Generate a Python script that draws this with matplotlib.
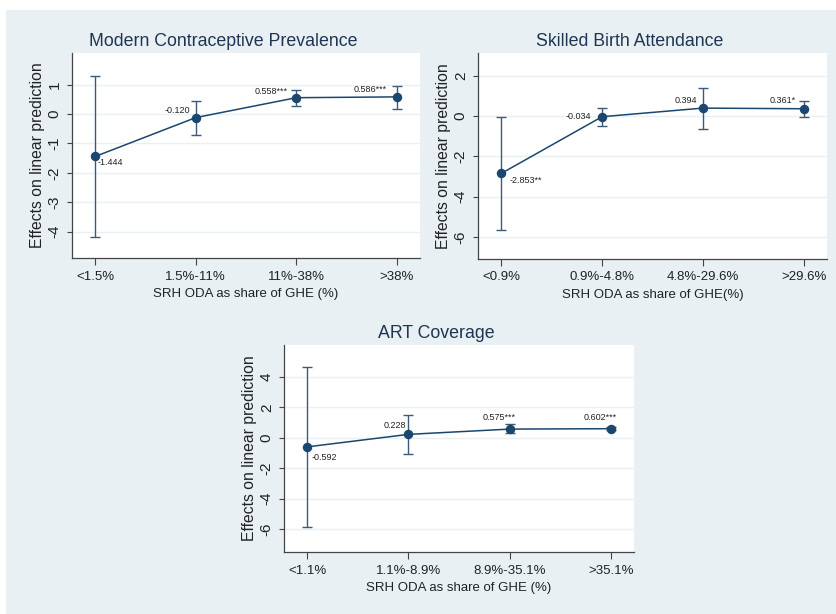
import matplotlib

matplotlib.use("Agg")
import matplotlib.pyplot as plt
from matplotlib.patches import Rectangle

plt.rcParams["font.family"] = ["Liberation Sans", "DejaVu Sans"]

# ---------------------------------------------------------------------------
# Data
# ---------------------------------------------------------------------------
MCP_CATS = ["<1.5%", "1.5%-11%", "11%-38%", ">38%"]
MCP_EST = [-1.444, -0.120, 0.558, 0.586]
MCP_LO = [-4.20, -0.71, 0.27, 0.19]
MCP_HI = [1.30, 0.45, 0.83, 0.97]
MCP_LABELS = ["-1.444", "-0.120", "0.558***", "0.586***"]

SBA_CATS = ["<0.9%", "0.9%-4.8%", "4.8%-29.6%", ">29.6%"]
SBA_EST = [-2.853, -0.034, 0.394, 0.361]
SBA_LO = [-5.67, -0.48, -0.63, -0.03]
SBA_HI = [-0.07, 0.38, 1.38, 0.75]
SBA_LABELS = ["-2.853**", "-0.034", "0.394", "0.361*"]

ART_CATS = ["<1.1%", "1.1%-8.9%", "8.9%-35.1%", ">35.1%"]
ART_EST = [-0.592, 0.228, 0.575, 0.602]
ART_LO = [-5.87, -1.07, 0.29, 0.49]
ART_HI = [4.64, 1.50, 0.88, 0.72]
ART_LABELS = ["-0.592", "0.228", "0.575***", "0.602***"]

# ---------------------------------------------------------------------------
# Style
# ---------------------------------------------------------------------------
COL = "#1a476f"
BG = "#e8f0f3"
TITLE_COL = "#1f3552"
W, H = 836, 614


def px_axes(fig, left, top, right, bottom):
    """Create axes from pixel box (origin top-left)."""
    return fig.add_axes([left / W, 1 - bottom / H, (right - left) / W, (bottom - top) / H])


def draw_panel(ax, cats, est, lo, hi, labels, offsets, title, xlabel, ylim, yticks):
    x = list(range(1, len(cats) + 1))
    yerr = [[e - l for e, l in zip(est, lo)], [h - e for e, h in zip(est, hi)]]
    ax.errorbar(
        x, est, yerr=yerr, color=COL, ecolor="#3b5b78", elinewidth=1.0,
        capsize=3.5, capthick=1.0, lw=1.1, marker="o", ms=5.8, zorder=3,
    )
    for xi, yi, txt, (dx, dy, ha, va) in zip(x, est, labels, offsets):
        ax.annotate(txt, (xi, yi), xytext=(dx, dy), textcoords="offset points",
                    ha=ha, va=va, fontsize=6.5, color="#222222")

    ax.set_xlim(0.77, len(cats) + 0.23)
    ax.set_ylim(*ylim)
    ax.set_xticks(x)
    ax.set_xticklabels(cats, fontsize=9.5, color="#222222")
    ax.set_yticks(yticks)
    ax.set_yticklabels([f"{t:g}" for t in yticks], rotation=90,
                       va="center", fontsize=11, color="#222222")
    ax.tick_params(axis="x", length=5, width=0.8, color="#444444", pad=4)
    ax.tick_params(axis="y", length=3.8, width=0.8, color="#444444", pad=3.5)
    ax.set_facecolor("white")
    ax.grid(axis="y", color=BG, lw=1.0, zorder=0)
    ax.set_axisbelow(True)
    for side in ("top", "right"):
        ax.spines[side].set_visible(False)
    for side in ("left", "bottom"):
        ax.spines[side].set_color("#444444")
        ax.spines[side].set_linewidth(0.9)
    ax.set_title(title, fontsize=12.8, color=TITLE_COL, pad=5, x=0.435)
    ax.set_xlabel(xlabel, fontsize=9.5, color="#222222", labelpad=4)
    ax.set_ylabel("Effects on linear prediction", fontsize=11.3, color="#222222", labelpad=2)


fig = plt.figure(figsize=(W / 100, H / 100), dpi=100, facecolor="white")
fig.patches.append(Rectangle((6 / W, 0), 1, 1 - 10 / H, transform=fig.transFigure,
                             facecolor=BG, edgecolor="none", zorder=-10))

ax1 = px_axes(fig, 72, 53, 420, 258)
draw_panel(
    ax1, MCP_CATS, MCP_EST, MCP_LO, MCP_HI, MCP_LABELS,
    [(2, -4, "left", "center"), (-4, 2, "right", "bottom"),
     (-6, 1, "right", "bottom"), (-7, 2, "right", "bottom")],
    "Modern Contraceptive Prevalence", "SRH ODA as share of GHE (%)",
    (-4.9, 2.08), [-4, -3, -2, -1, 0, 1],
)

ax2 = px_axes(fig, 478, 53, 827, 259)
draw_panel(
    ax2, SBA_CATS, SBA_EST, SBA_LO, SBA_HI, SBA_LABELS,
    [(6, -5, "left", "center"), (-8, 0, "right", "center"),
     (-4, 2, "right", "bottom"), (-6, 3, "right", "bottom")],
    "Skilled Birth Attendance", "SRH ODA as share of GHE(%)",
    (-7.1, 3.13), [-6, -4, -2, 0, 2],
)

ax3 = px_axes(fig, 284, 345, 634, 552)
draw_panel(
    ax3, ART_CATS, ART_EST, ART_LO, ART_HI, ART_LABELS,
    [(3, -8, "left", "center"), (-2, 3, "right", "bottom"),
     (4, 5, "right", "bottom"), (4, 5, "right", "bottom")],
    "ART Coverage", "SRH ODA as share of GHE (%)",
    (-7.5, 6.1), [-6, -4, -2, 0, 2, 4],
)

fig.savefig("out.png", dpi=100, facecolor=fig.get_facecolor())
